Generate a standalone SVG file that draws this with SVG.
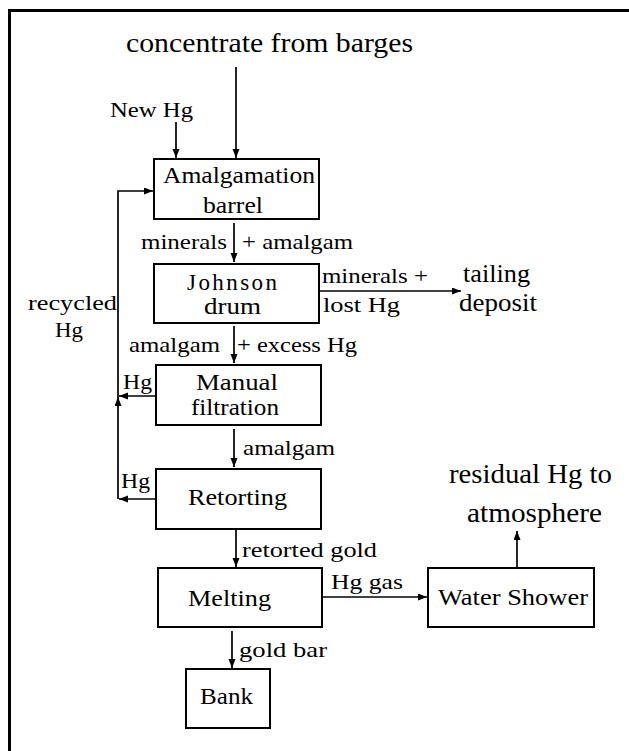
<svg xmlns="http://www.w3.org/2000/svg" width="629" height="751" viewBox="0 0 629 751">
<style>
text{font-family:"Liberation Serif","Times New Roman",serif;fill:#000}
.big{font-size:28px}
.mid{font-size:26px}
.box{font-size:23px}
.lbl{font-size:22px}
rect{fill:#fff;stroke:#000;stroke-width:2}
.c{fill:none;stroke:#000;stroke-width:1.7}
.frame{fill:none;stroke:#000;stroke-width:3}
</style>
<defs>
<marker id="ah" markerUnits="userSpaceOnUse" markerWidth="10" markerHeight="8" refX="9" refY="3.5" orient="auto">
<path d="M0,0 L9,3.5 L0,7 Z" fill="#000"/>
</marker>
</defs>
<rect width="629" height="751" style="fill:#fff;stroke:none"/>
<path class="frame" d="M9.5,751 V10.5 H629"/>

<g id="connectors">
<path class="c" d="M236,67 V158" marker-end="url(#ah)"/>
<path class="c" d="M176,122 V158" marker-end="url(#ah)"/>
<path class="c" d="M234,223 V262" marker-end="url(#ah)"/>
<path class="c" d="M320,291 H461" marker-end="url(#ah)"/>
<path class="c" d="M234,326 V363" marker-end="url(#ah)"/>
<path class="c" d="M155,396 H119" marker-end="url(#ah)"/>
<path class="c" d="M155,499 H119" marker-end="url(#ah)"/>
<path class="c" d="M118,499 V397" marker-end="url(#ah)"/>
<path class="c" d="M118,397 V191 H153" marker-end="url(#ah)"/>
<path class="c" d="M234,429 V467" marker-end="url(#ah)"/>
<path class="c" d="M236,530 V567" marker-end="url(#ah)"/>
<path class="c" d="M322,597 H427" marker-end="url(#ah)"/>
<path class="c" d="M517,567 V531" marker-end="url(#ah)"/>
<path class="c" d="M232,631 V668" marker-end="url(#ah)"/>
</g>

<g id="labels">
<text class="big" x="126" y="52" textLength="287" lengthAdjust="spacingAndGlyphs">concentrate from barges</text>
<text class="lbl" x="110" y="117" textLength="83" lengthAdjust="spacingAndGlyphs">New Hg</text>
<text class="lbl" x="141" y="249" textLength="86" lengthAdjust="spacingAndGlyphs">minerals</text>
<text class="lbl" x="242" y="249" textLength="111" lengthAdjust="spacingAndGlyphs">+ amalgam</text>
<text class="lbl" x="322" y="283" textLength="106" lengthAdjust="spacingAndGlyphs">minerals +</text>
<text class="lbl" x="323" y="312" textLength="77" lengthAdjust="spacingAndGlyphs">lost Hg</text>
<text class="mid" x="463" y="282" textLength="67" lengthAdjust="spacingAndGlyphs">tailing</text>
<text class="mid" x="459" y="311" textLength="78" lengthAdjust="spacingAndGlyphs">deposit</text>
<text class="lbl" x="28" y="310" textLength="89" lengthAdjust="spacingAndGlyphs">recycled</text>
<text class="lbl" x="55" y="337" textLength="28" lengthAdjust="spacingAndGlyphs">Hg</text>
<text class="lbl" x="129" y="352" textLength="91" lengthAdjust="spacingAndGlyphs">amalgam</text>
<text class="lbl" x="237" y="352" textLength="120" lengthAdjust="spacingAndGlyphs">+ excess Hg</text>
<text class="lbl" x="123" y="389" textLength="29" lengthAdjust="spacingAndGlyphs">Hg</text>
<text class="lbl" x="243" y="455" textLength="92" lengthAdjust="spacingAndGlyphs">amalgam</text>
<text class="lbl" x="121" y="488" textLength="29" lengthAdjust="spacingAndGlyphs">Hg</text>
<text class="lbl" x="242" y="557" textLength="135" lengthAdjust="spacingAndGlyphs">retorted gold</text>
<text class="lbl" x="331" y="589" textLength="72" lengthAdjust="spacingAndGlyphs">Hg gas</text>
<text class="big" x="449" y="483" textLength="163" lengthAdjust="spacingAndGlyphs">residual Hg to</text>
<text class="big" x="467" y="522" textLength="135" lengthAdjust="spacingAndGlyphs">atmosphere</text>
<text class="lbl" x="239" y="657" textLength="88" lengthAdjust="spacingAndGlyphs">gold bar</text>
</g>

<g id="amalgamation-barrel">
<rect x="154" y="159" width="165" height="60"/>
<text class="box" x="163" y="183" textLength="152" lengthAdjust="spacingAndGlyphs">Amalgamation</text>
<text class="box" x="203" y="213" textLength="60" lengthAdjust="spacingAndGlyphs">barrel</text>
</g>
<g id="johnson-drum">
<rect x="154" y="264" width="165" height="59"/>
<text class="box" x="187" y="290" textLength="90" lengthAdjust="spacing">Johnson</text>
<text class="box" x="204" y="314" textLength="57" lengthAdjust="spacingAndGlyphs">drum</text>
</g>
<g id="manual-filtration">
<rect x="156" y="365" width="165" height="60"/>
<text class="box" x="196" y="390" textLength="82" lengthAdjust="spacingAndGlyphs">Manual</text>
<text class="box" x="191" y="415" textLength="88" lengthAdjust="spacingAndGlyphs">filtration</text>
</g>
<g id="retorting">
<rect x="156" y="469" width="165" height="60"/>
<text class="box" x="188" y="505" textLength="99" lengthAdjust="spacingAndGlyphs">Retorting</text>
</g>
<g id="melting">
<rect x="158" y="568" width="164" height="59"/>
<text class="box" x="188" y="606" textLength="83" lengthAdjust="spacingAndGlyphs">Melting</text>
</g>
<g id="water-shower">
<rect x="428" y="568" width="166" height="59"/>
<text class="box" x="438" y="605" textLength="150" lengthAdjust="spacingAndGlyphs">Water Shower</text>
</g>
<g id="bank">
<rect x="186" y="669" width="84" height="59"/>
<text class="box" x="200" y="704" textLength="53" lengthAdjust="spacingAndGlyphs">Bank</text>
</g>
</svg>
